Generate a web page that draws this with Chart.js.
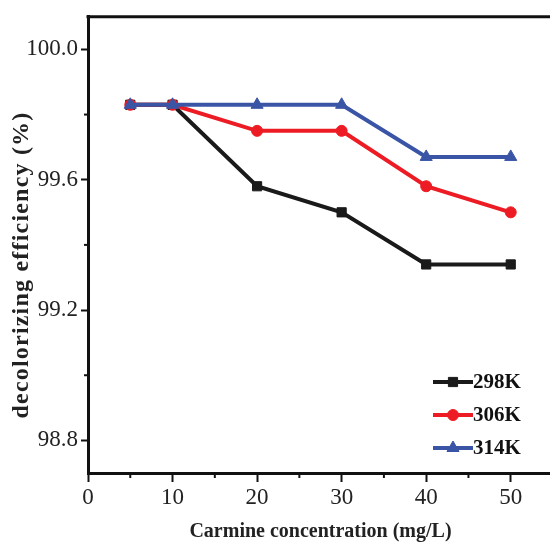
<!DOCTYPE html>
<html>
<head>
<meta charset="utf-8">
<script src="https://cdn.jsdelivr.net/npm/chart.js@4.4.1/dist/chart.umd.min.js"></script>
<style>
  html, body { margin: 0; padding: 0; background: #fff; overflow: hidden; }
  #wrap { width: 561px; height: 549px; }
</style>
</head>
<body>
<div id="wrap"><canvas id="chart" width="561" height="549"></canvas></div>
<script>
// data
const concentrations = [5, 10, 20, 30, 40, 50];
const eff298 = [99.83, 99.83, 99.58, 99.50, 99.34, 99.34];
const eff306 = [99.83, 99.83, 99.75, 99.75, 99.58, 99.50];
const eff314 = [99.83, 99.83, 99.83, 99.83, 99.67, 99.67];
const seriesNames = ['298K', '306K', '314K'];

const xMajorTicks = [0, 10, 20, 30, 40, 50];
const xMinorTicks = [5, 15, 25, 35, 45];
const yMajorTicks = [98.8, 99.2, 99.6, 100.0];
const yMinorTicks = [99.0, 99.4, 99.8];

const yTitle = 'decolorizing efficiency (%)';
const serif = "'Liberation Serif', 'Times New Roman', serif";

const toXY = vals => vals.map((v, i) => ({ x: concentrations[i], y: v }));

// minor ticks, top spine, y title and the legend in the lower right
const extras = {
  id: 'extras',
  afterDraw(chart) {
    const ctx = chart.ctx;
    const area = chart.chartArea;
    const xs = chart.scales.x, ys = chart.scales.y;
    ctx.save();
    ctx.strokeStyle = '#111';
    ctx.lineWidth = 2;
    xMinorTicks.forEach(v => {
      const px = xs.getPixelForValue(v);
      ctx.beginPath(); ctx.moveTo(px, area.bottom); ctx.lineTo(px, area.bottom + 5); ctx.stroke();
    });
    yMinorTicks.forEach(v => {
      const py = ys.getPixelForValue(v);
      ctx.beginPath(); ctx.moveTo(area.left, py); ctx.lineTo(area.left - 4, py); ctx.stroke();
    });
    ctx.lineWidth = 3;
    ctx.beginPath(); ctx.moveTo(area.left - 1.5, area.top); ctx.lineTo(area.right, area.top); ctx.stroke();

    // y axis title, slightly spaced like the original
    ctx.save();
    ctx.translate(22, 265);
    ctx.rotate(-Math.PI / 2);
    ctx.font = 'bold 24px ' + serif;
    ctx.letterSpacing = '1.2px';
    ctx.fillStyle = '#222';
    ctx.textAlign = 'center';
    ctx.textBaseline = 'middle';
    ctx.fillText(yTitle, 0, 0);
    ctx.restore();

    // legend
    const x0 = area.right - 120, y0 = area.bottom - 91, gap = 33;
    seriesNames.forEach((name, i) => {
      const ds = chart.data.datasets.find(d => d.label === name);
      const y = y0 + i * gap;
      ctx.strokeStyle = ds.borderColor;
      ctx.lineWidth = 4;
      ctx.beginPath(); ctx.moveTo(x0, y); ctx.lineTo(x0 + 40, y); ctx.stroke();
      ctx.fillStyle = ds.backgroundColor;
      ctx.strokeStyle = ds.borderColor;
      ctx.lineWidth = 1;
      Chart.helpers.drawPoint(ctx, { pointStyle: ds.pointStyle, radius: ds.pointRadius, rotation: 0, borderWidth: 1 }, x0 + 20, y);
      ctx.fillStyle = '#111';
      ctx.font = 'bold 21px ' + serif;
      ctx.textAlign = 'left';
      ctx.textBaseline = 'middle';
      ctx.fillText(name, x0 + 40, y + 1);
    });
    ctx.restore();
  }
};

new Chart(document.getElementById('chart'), {
  type: 'line',
  data: {
    datasets: [
      { label: '298K', data: toXY(eff298), borderColor: '#1a1a1a', backgroundColor: '#1a1a1a',
        pointStyle: 'rect', pointRadius: 6.5, order: 2 },
      { label: '306K', data: toXY(eff306), borderColor: '#ed1c24', backgroundColor: '#ed1c24',
        pointStyle: 'circle', pointRadius: 5.5, order: 1 },
      { label: '314K', data: toXY(eff314), borderColor: '#3a55a5', backgroundColor: '#3a55a5',
        pointStyle: 'triangle', pointRadius: 7, order: 0 }
    ].map(d => ({ ...d, borderWidth: 4, pointBorderWidth: 1, tension: 0, fill: false }))
  },
  options: {
    responsive: false,
    animation: false,
    layout: { padding: { top: 15, right: 3, left: 0, bottom: 0 } },
    plugins: { legend: { display: false }, tooltip: { enabled: false } },
    scales: {
      x: {
        type: 'linear',
        min: 0, max: 55,
        afterBuildTicks: s => { s.ticks = xMajorTicks.map(v => ({ value: v })); },
        afterFit: s => { s.height = 76; },
        border: { color: '#111', width: 3 },
        grid: { drawOnChartArea: false, tickLength: 9, tickWidth: 2, tickColor: '#111' },
        ticks: { color: '#222', padding: 2, font: { family: serif, size: 23 }, maxRotation: 0 },
        title: { display: true, text: 'Carmine concentration (mg/L)', color: '#222',
          font: { family: serif, size: 20, weight: 'bold' }, padding: { top: 0, bottom: 5 } }
      },
      y: {
        min: 98.7, max: 100.1,
        afterBuildTicks: s => { s.ticks = yMajorTicks.map(v => ({ value: v })); },
        afterFit: s => { s.width = 88; },
        border: { color: '#111', width: 3 },
        grid: { drawOnChartArea: false, tickLength: 7, tickWidth: 2, tickColor: '#111' },
        ticks: { color: '#222', padding: 3, font: { family: serif, size: 23 },
          callback: v => Number(v).toFixed(1) },
        title: { display: false }
      }
    }
  },
  plugins: [extras]
});
</script>
</body>
</html>
